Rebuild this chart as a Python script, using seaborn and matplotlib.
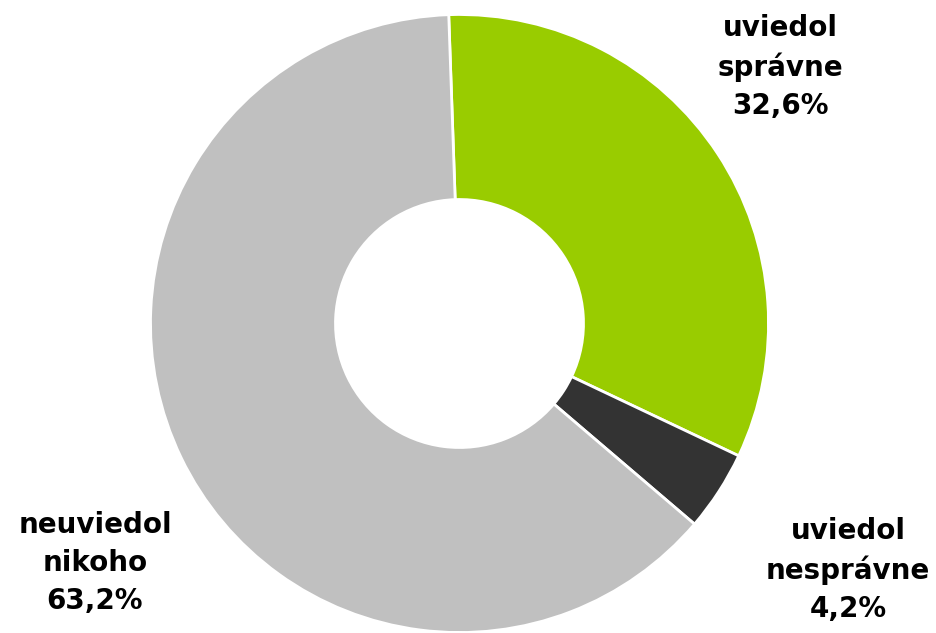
import matplotlib
matplotlib.use("Agg")
import matplotlib.pyplot as plt
import seaborn as sns

# Data
categories = ["uviedol\nsprávne", "uviedol\nnesprávne", "neuviedol\nnikoho"]
shares = [32.6, 4.2, 63.2]
colors = ["#99CC00", "#333333", "#C0C0C0"]

# label anchor points in pixel space (x from left, y from top)
label_px = [(780, 67), (848, 570), (95, 563)]

sns.set_theme(style="white")
plt.rcParams["font.family"] = ["DejaVu Sans"]

W, H = 936, 633
fig = plt.figure(figsize=(W / 100, H / 100), dpi=100)
ax = fig.add_axes([0, 0, 1, 1])

cx, cy, r_out, r_in = 459.5, H - 323.5, 309, 124
ax.pie(shares, colors=colors, startangle=92, counterclock=False,
       radius=r_out, center=(cx, cy),
       wedgeprops=dict(width=r_out - r_in, edgecolor="white", linewidth=2))
ax.set_xlim(0, W)
ax.set_ylim(0, H)
ax.set_aspect("equal")
ax.axis("off")

for cat, val, (px, py) in zip(categories, shares, label_px):
    txt = f"{cat}\n{val:.1f}%".replace(".", ",")
    ax.text(px, H - py, txt, ha="center", va="center", fontsize=20,
            fontweight="bold", color="black", linespacing=1.45)

fig.savefig("out.png", dpi=100, facecolor="white")
